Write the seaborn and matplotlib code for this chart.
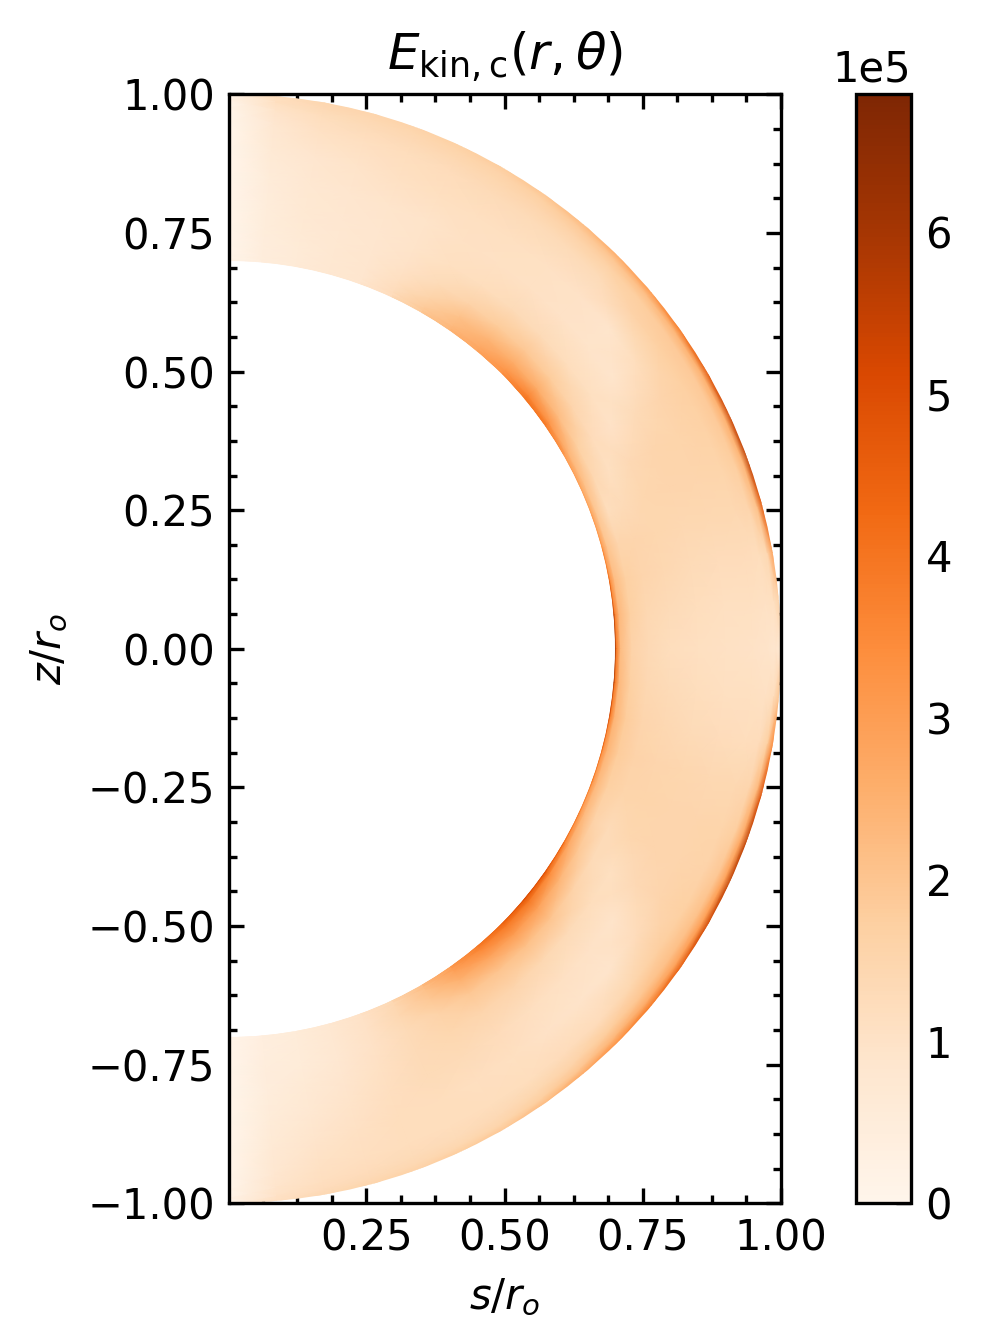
import numpy as np
import matplotlib
matplotlib.use('Agg')
import matplotlib.pyplot as plt
from matplotlib.patches import Wedge
from matplotlib.ticker import MultipleLocator
import seaborn as sns

# radial nodes (r/r_o) and latitude nodes (deg)
# last node sits just past 1 so the clip below gives a clean round edge
radius = [0.700, 0.703, 0.710, 0.730, 0.760, 0.800, 0.850, 0.900, 0.950, 0.975, 0.990, 1.0012]
latitude = [90, 85, 80, 75, 70, 65, 60, 55, 50, 45, 40, 35, 30, 25, 20, 15, 10, 5, 0,
            -5, -10, -15, -20, -25, -30, -35, -40, -45, -50, -55, -60, -65, -70, -75, -80, -85, -90]

# kinetic energy in units of 1e5, one row per latitude
ekin = [
    [.05, .05, .05, .05, .05, .05, .05, .05, .05, .05, .08, .1],
    [.45, .45, .45, .45, .5, .5, .55, .65, .8, .95, 1.1, 1.2],
    [.6, .6, .6, .6, .65, .7, .75, .85, 1.05, 1.2, 1.35, 1.45],
    [.75, .75, .75, .75, .75, .8, .85, .95, 1.15, 1.3, 1.4, 1.5],
    [.85, .85, .85, .85, .85, .85, .9, 1.05, 1.2, 1.35, 1.45, 1.6],
    [1.25, 1.25, 1.25, 1.15, 1.0, .95, .95, 1.1, 1.25, 1.4, 1.55, 1.7],
    [1.9, 1.9, 1.85, 1.6, 1.3, 1.1, 1.05, 1.1, 1.3, 1.45, 1.6, 1.8],
    [2.4, 2.4, 2.3, 2.1, 1.6, 1.2, 1.05, 1.1, 1.3, 1.5, 1.7, 2.0],
    [2.8, 2.8, 2.7, 2.4, 1.8, 1.3, 1.05, 1.05, 1.3, 1.6, 1.85, 2.3],
    [3.3, 3.3, 3.2, 2.6, 1.9, 1.3, 1.0, 1.0, 1.3, 1.65, 2.0, 2.7],
    [4.0, 4.0, 3.6, 2.6, 1.8, 1.2, .95, .9, 1.6, 1.75, 2.2, 3.2],
    [3.9, 3.8, 3.2, 2.2, 1.5, 1.1, .9, 1.2, 1.7, 1.85, 2.4, 4.0],
    [3.2, 3.0, 2.4, 1.7, 1.25, 1.0, 1.3, 1.5, 1.7, 1.85, 2.5, 4.8],
    [2.9, 2.6, 2.1, 1.4, 1.1, 1.35, 1.5, 1.55, 1.65, 1.85, 2.5, 5.4],
    [3.0, 2.6, 1.9, 1.2, 1.3, 1.45, 1.5, 1.5, 1.55, 1.75, 2.4, 5.6],
    [3.4, 2.8, 2.0, 1.5, 1.5, 1.45, 1.4, 1.4, 1.4, 1.5, 2.1, 4.8],
    [4.4, 3.2, 2.2, 1.7, 1.5, 1.4, 1.3, 1.25, 1.25, 1.2, 1.4, 3.0],
    [5.6, 3.6, 2.3, 1.7, 1.4, 1.3, 1.2, 1.1, 1.1, 1.05, 1.1, 1.6],
    [6.0, 3.8, 2.2, 1.6, 1.35, 1.2, 1.1, 1.05, 1.0, .95, .85, .85],
    [5.8, 3.8, 2.3, 1.7, 1.4, 1.3, 1.2, 1.1, 1.1, 1.05, 1.2, 2.0],
    [5.2, 3.6, 2.4, 1.8, 1.5, 1.4, 1.3, 1.25, 1.2, 1.25, 1.7, 3.6],
    [4.4, 3.2, 2.4, 1.8, 1.6, 1.5, 1.45, 1.4, 1.4, 1.5, 2.3, 5.0],
    [4.0, 3.0, 2.3, 1.7, 1.55, 1.55, 1.5, 1.5, 1.55, 1.75, 2.7, 5.6],
    [3.8, 3.0, 2.3, 1.6, 1.3, 1.45, 1.5, 1.5, 1.6, 1.95, 2.9, 5.6],
    [4.4, 3.6, 2.7, 1.9, 1.3, 1.1, 1.35, 1.5, 1.7, 2.1, 3.0, 5.3],
    [5.0, 4.4, 3.4, 2.4, 1.6, 1.2, .95, 1.25, 1.75, 2.15, 2.9, 4.7],
    [5.2, 4.6, 3.9, 2.9, 2.0, 1.3, 1.0, .9, 1.45, 2.0, 2.7, 4.0],
    [4.6, 4.3, 3.8, 3.0, 2.1, 1.4, 1.05, .95, 1.25, 1.8, 2.4, 3.4],
    [3.9, 3.8, 3.5, 2.8, 2.0, 1.5, 1.15, 1.0, 1.25, 1.6, 2.0, 2.8],
    [3.1, 3.0, 2.9, 2.5, 1.9, 1.5, 1.25, 1.1, 1.2, 1.45, 1.75, 2.3],
    [2.2, 2.2, 2.1, 1.9, 1.6, 1.45, 1.3, 1.15, 1.2, 1.35, 1.55, 1.95],
    [1.4, 1.4, 1.4, 1.4, 1.3, 1.3, 1.3, 1.2, 1.2, 1.3, 1.45, 1.8],
    [1.0, 1.0, 1.0, 1.0, 1.0, 1.05, 1.15, 1.2, 1.2, 1.3, 1.4, 1.65],
    [.75, .75, .75, .75, .75, .85, .95, 1.05, 1.15, 1.25, 1.35, 1.55],
    [.55, .55, .55, .55, .55, .65, .75, .9, 1.05, 1.15, 1.25, 1.4],
    [.4, .4, .4, .4, .45, .45, .55, .65, .8, .9, 1.0, 1.15],
    [.05, .05, .05, .05, .05, .05, .05, .05, .05, .05, .08, .1],
]

xticks = [0.25, 0.50, 0.75, 1.00]
yticks = [-1.00, -0.75, -0.50, -0.25, 0.00, 0.25, 0.50, 0.75, 1.00]
cbar_ticks = [0, 1e5, 2e5, 3e5, 4e5, 5e5, 6e5]
vmax = 6.85e5

sns.set_style('white')
plt.rcParams['font.family'] = 'DejaVu Sans'
plt.rcParams['font.size'] = 10
plt.rcParams['axes.edgecolor'] = 'black'
plt.rcParams['axes.linewidth'] = 0.8
plt.rcParams['text.color'] = 'black'
plt.rcParams['axes.labelcolor'] = 'black'
plt.rcParams['xtick.color'] = 'black'
plt.rcParams['ytick.color'] = 'black'

W, H = 982, 1344
fig = plt.figure(figsize=(W / 300, H / 300), dpi=300)
ax = fig.add_axes([229.3 / W, 1 - 1203.3 / H, 551.7 / W, 1109 / H])
cax = fig.add_axes([856 / W, 1 - 1203.3 / H, 55 / W, 1109 / H])

rr, ll = np.meshgrid(radius, np.radians(latitude))
ss = rr * np.cos(ll)
zz = rr * np.sin(ll)
values = np.array(ekin) * 1e5

cmap = sns.color_palette('Oranges', as_cmap=True)
mesh = ax.pcolormesh(ss, zz, values, shading='gouraud', cmap=cmap, vmin=0, vmax=vmax)
mesh.set_clip_path(Wedge((0, 0), 1.0, -90, 90, width=0.3, transform=ax.transData))

ax.set_xlim(0.002, 1.0)
ax.set_ylim(-1, 1)
ax.set_xticks(xticks)
ax.set_yticks(yticks)
ax.xaxis.set_minor_locator(MultipleLocator(0.0625))
ax.yaxis.set_minor_locator(MultipleLocator(0.0625))
ax.tick_params(which='both', direction='in', top=True, right=True, bottom=True, left=True, width=0.8)
ax.tick_params(which='major', length=3.5, labelsize=10)
ax.tick_params(which='minor', length=2)
ax.set_xlabel(r'$s/r_o$', fontsize=10)
ax.set_ylabel(r'$z/r_o$', fontsize=10)
ax.set_title(r'$E_{\mathrm{kin,c}}(r,\theta)$', fontsize=12)

cbar = fig.colorbar(mesh, cax=cax)
cbar.set_ticks(cbar_ticks)
cbar.formatter.set_powerlimits((0, 0))
cbar.update_ticks()
cbar.ax.yaxis.set_minor_locator(MultipleLocator(0.2e5))
cbar.ax.tick_params(which='both', direction='in', width=0.8)
cbar.ax.tick_params(which='major', length=3.5, labelsize=10)
cbar.ax.tick_params(which='minor', length=2)

fig.savefig('out.png', dpi=300)
